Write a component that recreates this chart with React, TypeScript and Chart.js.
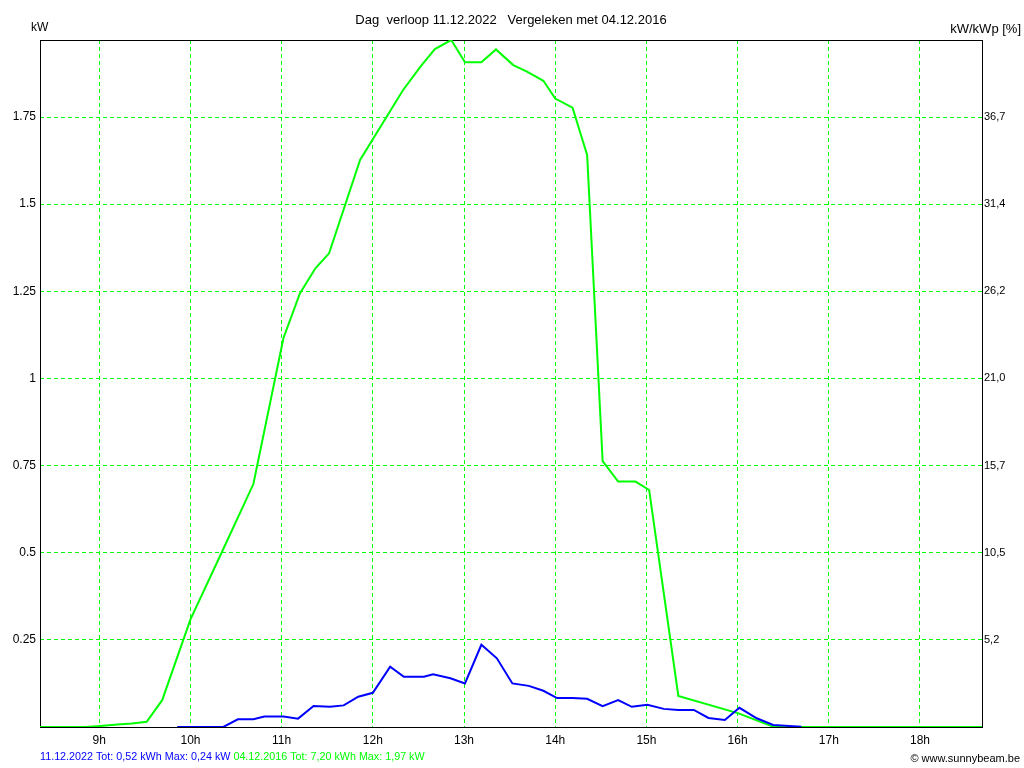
import React, { useEffect, useRef } from "react";
import { Chart, registerables } from "chart.js";

Chart.register(...registerables);

// ---- texts ----
const TITLE = "Dag  verloop 11.12.2022   Vergeleken met 04.12.2016";
const LEFT_UNIT = "kW";
const RIGHT_UNIT = "kW/kWp [%]";
const LEGEND_2022 = "11.12.2022 Tot: 0,52 kWh Max: 0,24 kW";
const LEGEND_2016 = "04.12.2016 Tot: 7,20 kWh Max: 1,97 kW";
const COPYRIGHT = "© www.sunnybeam.be";

// ---- axes ----
const X_MIN = 8.35;
const X_MAX = 18.68;
const Y_MAX = 1.971;
const HOUR_TICKS = [9, 10, 11, 12, 13, 14, 15, 16, 17, 18];
const HOUR_LABELS = ["9h", "10h", "11h", "12h", "13h", "14h", "15h", "16h", "17h", "18h"];
const KW_TICKS = [0.25, 0.5, 0.75, 1, 1.25, 1.5, 1.75];
const KW_LABELS = ["0.25", "0.5", "0.75", "1", "1.25", "1.5", "1.75"];
const PCT_LABELS = ["5,2", "10,5", "15,7", "21,0", "26,2", "31,4", "36,7"];

// ---- series: 04.12.2016 (green) ----
const TIME_2016 = [
  8.35, 8.85, 9.01, 9.2, 9.36, 9.52, 9.69, 10.0, 10.35, 10.69, 11.02, 11.2, 11.37,
  11.52, 11.86, 12.33, 12.52, 12.68, 12.86, 13.01, 13.19, 13.35, 13.54, 13.69, 13.87,
  14.0, 14.19, 14.35, 14.52, 14.69, 14.88, 15.03, 15.35, 16.01, 16.39, 16.5, 18.68,
];
const KW_2016 = [
  0, 0, 0.003, 0.007, 0.01, 0.015, 0.077, 0.309, 0.505, 0.697, 1.116, 1.244, 1.316,
  1.359, 1.627, 1.827, 1.894, 1.945, 1.971, 1.907, 1.907, 1.944, 1.899, 1.88, 1.854,
  1.803, 1.777, 1.641, 0.763, 0.704, 0.704, 0.68, 0.089, 0.039, 0.001, 0, 0,
];

// ---- series: 11.12.2022 (blue) ----
const TIME_2022 = [
  9.855, 10.36, 10.52, 10.69, 10.81, 11.02, 11.18, 11.35, 11.53, 11.68, 11.84, 12.0,
  12.19, 12.34, 12.56, 12.66, 12.85, 13.01, 13.19, 13.36, 13.53, 13.71, 13.87, 14.02,
  14.19, 14.35, 14.52, 14.69, 14.84, 15.01, 15.19, 15.35, 15.52, 15.68, 15.86, 16.02,
  16.21, 16.39, 16.7,
];
const KW_2022 = [
  0, 0, 0.022, 0.022, 0.03, 0.03, 0.024, 0.06, 0.058, 0.062, 0.087, 0.098,
  0.173, 0.144, 0.144, 0.151, 0.14, 0.125, 0.236, 0.197, 0.125, 0.118, 0.104, 0.083,
  0.083, 0.081, 0.06, 0.077, 0.058, 0.064, 0.052, 0.049, 0.049, 0.026, 0.02, 0.055,
  0.025, 0.006, 0.001,
];

const GREEN = "#00ff00";
const BLUE = "#0000ff";
const FONT = '"Liberation Sans", Arial, sans-serif';

const framePlugin = {
  id: "frameAndTexts",
  beforeDatasetsDraw(chart: any) {
    const { ctx, chartArea: a } = chart;
    ctx.save();
    ctx.strokeStyle = "#000";
    ctx.lineWidth = 1;
    ctx.strokeRect(a.left + 0.5, a.top + 0.5, a.right - a.left, a.bottom - a.top);
    ctx.restore();
  },
  afterDraw(chart: any) {
    const { ctx } = chart;
    ctx.save();
    ctx.fillStyle = "#000";
    ctx.textBaseline = "middle";
    ctx.font = `13px ${FONT}`;
    ctx.textAlign = "center";
    ctx.fillText(TITLE, 511, 20);
    ctx.font = `12px ${FONT}`;
    ctx.textAlign = "left";
    ctx.fillText(LEFT_UNIT, 31, 28);
    ctx.font = `13px ${FONT}`;
    ctx.textAlign = "right";
    ctx.fillText(RIGHT_UNIT, 1021, 29);
    ctx.font = `10.75px ${FONT}`;
    ctx.textAlign = "left";
    ctx.fillStyle = BLUE;
    ctx.fillText(LEGEND_2022, 40, 757);
    const w = ctx.measureText(LEGEND_2022 + " ").width;
    ctx.fillStyle = GREEN;
    ctx.fillText(LEGEND_2016, 40 + w, 757);
    ctx.fillStyle = "#000";
    ctx.font = `11px ${FONT}`;
    ctx.textAlign = "right";
    ctx.fillText(COPYRIGHT, 1020, 759);
    ctx.restore();
  },
};

export default function App() {
  const ref = useRef<HTMLCanvasElement | null>(null);

  useEffect(() => {
    if (!ref.current) return;
    const chart = new Chart(ref.current, {
      type: "line",
      data: {
        datasets: [
          {
            label: "11.12.2022",
            data: TIME_2022.map((t, i) => ({ x: t, y: KW_2022[i] })),
            borderColor: BLUE,
            borderWidth: 2,
            pointRadius: 0,
            tension: 0,
            fill: false,
            order: 1,
            yAxisID: "y",
          },
          {
            label: "04.12.2016",
            data: TIME_2016.map((t, i) => ({ x: t, y: KW_2016[i] })),
            borderColor: GREEN,
            borderWidth: 2,
            pointRadius: 0,
            tension: 0,
            fill: false,
            order: 2,
            yAxisID: "y",
          },
        ],
      },
      options: {
        animation: false,
        responsive: false,
        devicePixelRatio: 1,
        layout: { padding: { top: 40, left: 0, right: 0, bottom: 0 } },
        plugins: {
          legend: { display: false },
          tooltip: { enabled: false },
          title: { display: false },
        },
        scales: {
          x: {
            type: "linear",
            min: X_MIN,
            max: X_MAX,
            afterBuildTicks: (s: any) => {
              s.ticks = HOUR_TICKS.map((v) => ({ value: v }));
            },
            afterFit: (s: any) => {
              s.height = 41;
            },
            ticks: {
              autoSkip: false,
              maxRotation: 0,
              padding: 6,
              color: "#000",
              font: { family: FONT, size: 12 },
              callback: (_v: any, i: number) => HOUR_LABELS[i],
            },
            grid: { color: GREEN, lineWidth: 1, drawTicks: false },
            border: { display: false, dash: [4, 3] },
          },
          y: {
            type: "linear",
            position: "left",
            min: 0,
            max: Y_MAX,
            afterBuildTicks: (s: any) => {
              s.ticks = KW_TICKS.map((v) => ({ value: v }));
            },
            afterFit: (s: any) => {
              s.width = 40;
            },
            ticks: {
              autoSkip: false,
              padding: 4,
              color: "#000",
              font: { family: FONT, size: 12 },
              callback: (_v: any, i: number) => KW_LABELS[i],
            },
            grid: { color: GREEN, lineWidth: 1, drawTicks: false },
            border: { display: false, dash: [4, 3] },
          },
          y2: {
            type: "linear",
            position: "right",
            min: 0,
            max: Y_MAX,
            afterBuildTicks: (s: any) => {
              s.ticks = KW_TICKS.map((v) => ({ value: v }));
            },
            afterFit: (s: any) => {
              s.width = 42;
            },
            ticks: {
              autoSkip: false,
              padding: 2,
              color: "#000",
              font: { family: FONT, size: 11 },
              callback: (_v: any, i: number) => PCT_LABELS[i],
            },
            grid: { display: false, drawTicks: false },
            border: { display: false },
          },
        },
      },
      plugins: [framePlugin],
    });
    return () => chart.destroy();
  }, []);

  return (
    <div style={{ position: "absolute", left: 0, top: 0, width: 1024, height: 768, background: "#fff" }}>
      <canvas ref={ref} width={1024} height={768} />
    </div>
  );
}
